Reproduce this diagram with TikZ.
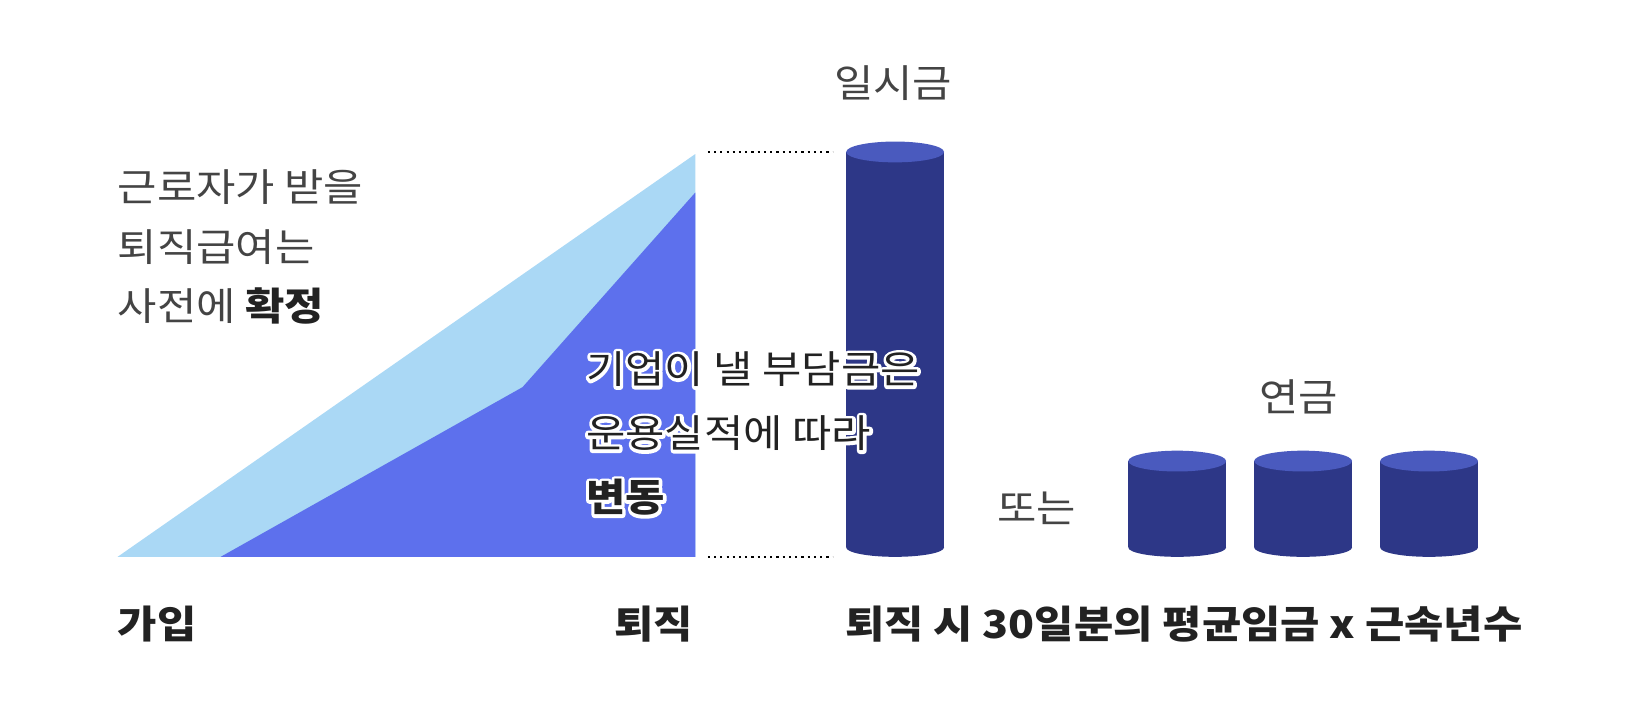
\documentclass[tikz,border=0pt]{standalone}
\usepackage{fontspec}
\setmainfont[FakeStretch=1.11]{Noto Sans CJK KR}
\definecolor{skyblue}{RGB}{170,216,245}
\definecolor{midblue}{RGB}{93,112,237}
\definecolor{navy}{RGB}{45,55,135}
\definecolor{navytop}{RGB}{74,90,190}
\definecolor{txtgray}{RGB}{68,68,68}
\definecolor{txtdark}{RGB}{34,34,34}
\newcommand{\can}[4]{% center x, top y, bottom y, half width
  \fill[navy] (#1-#4,#2) rectangle (#1+#4,#3);
  \fill[navy] (#1,#3) ellipse ({#4} and 9);
  \fill[navytop] (#1,#2) ellipse ({#4} and 10);
}
% white outline behind text (stroke only render mode)
\newcommand{\halo}[1]{\special{pdf:literal direct 1 Tr 6 w 1 1 1 RG 1 j 1 J}#1\special{pdf:literal direct 0 Tr}}
\begin{document}
\begin{tikzpicture}[x=1pt, y=-1pt,
  plain/.style={text=txtgray, font=\fontsize{37}{57}\selectfont, inner sep=0pt},
  heavy/.style={text=txtdark, font=\fontsize{37}{57}\selectfont\bfseries, inner sep=0pt},
  guide/.style={line width=2pt, dash pattern=on 2pt off 4pt, black}]

\useasboundingbox (0,0) rectangle (1568,684);

% Drawing the two growth areas
\fill[skyblue] (113,535) -- (668,148) -- (668,535) -- cycle;
\fill[midblue] (212,535) -- (502,372) -- (668,185) -- (668,535) -- cycle;

% Drawing lump sum and pension cans
\can{860}{146}{526}{47}
\can{1131}{443}{526}{47}
\can{1252}{443}{526}{47}
\can{1373}{443}{526}{47}

% Guide line ends
\coordinate (areatop) at (680,146);
\coordinate (cantop) at (800,146);
\coordinate (areabot) at (680,535);
\coordinate (canbot) at (800,535);
\draw[guide] (areatop) -- (cantop);
\draw[guide] (areabot) -- (canbot);

% Labels
\node[plain, anchor=north west, align=left] (fixed) at (113,163)
  {근로자가 받을\\퇴직급여는\\사전에 \textbf{\color{txtdark}확정}};
\node[plain, anchor=north west, align=left, text=white,
  font=\fontsize{37}{61.5}\selectfont] (varyhalo) at (563,338)
  {\halo{기업이 낼 부담금은}\\\halo{운용실적에 따라}\\\halo{\textbf{변동}}};
\node[plain, anchor=north west, align=left, text=txtdark,
  font=\fontsize{37}{61.5}\selectfont] (vary) at (563,338)
  {기업이 낼 부담금은\\운용실적에 따라\\\textbf{변동}};
\node[plain] (lump) at (858,80) {일시금};
\node[plain] (annuity) at (1248,381) {연금};
\node[plain] (either) at (996,488) {또는};
\node[heavy, anchor=west] (join) at (113,600) {가입};
\node[heavy, anchor=east] (leave) at (666,600) {퇴직};
\node[heavy, anchor=west] (formula) at (812,600) {퇴직 시 30일분의 평균임금 x 근속년수};

\end{tikzpicture}
\end{document}
